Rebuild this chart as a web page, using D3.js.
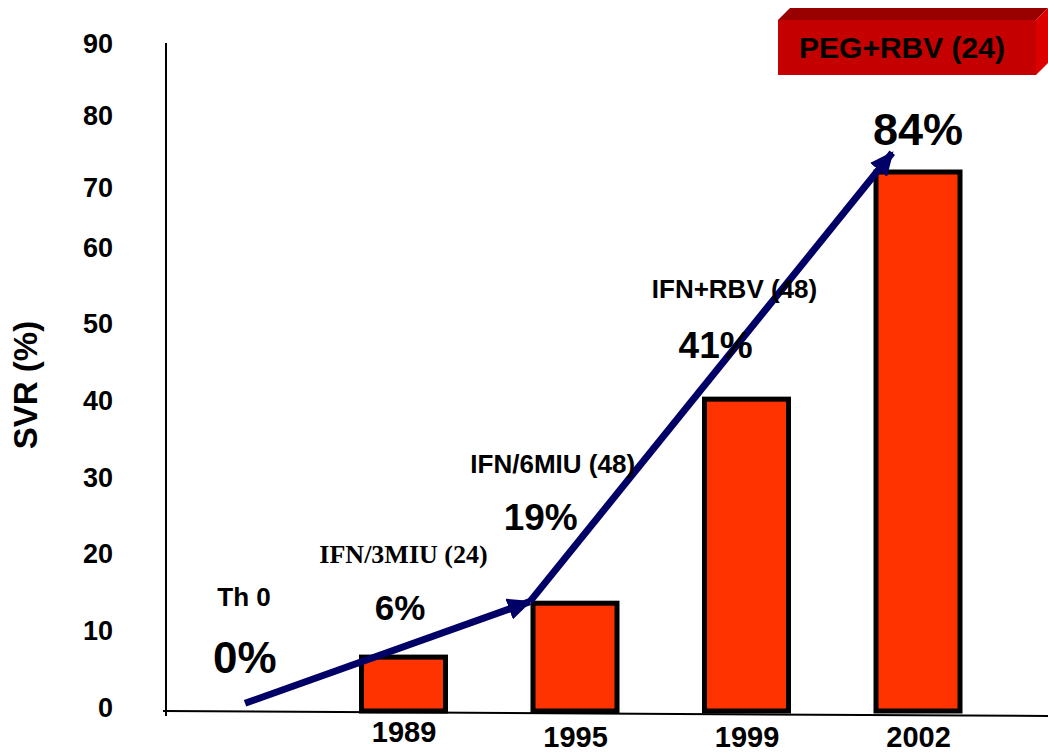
<!DOCTYPE html>
<html>
<head>
<meta charset="utf-8">
<script src="https://cdn.jsdelivr.net/npm/d3@7"></script>
<style>
  html, body { margin: 0; padding: 0; background: #fff; }
  svg { display: block; }
  text { font-family: "Liberation Sans", Arial, sans-serif; font-weight: bold; fill: #000; }
</style>
</head>
<body>
<svg id="chart" width="1048" height="753"></svg>
<script>
// Sustained virological response by treatment era
const categories = ["Th 0", "1989", "1995", "1999", "2002"];
const years = ["1989", "1995", "1999", "2002"];
const svr = [7, 14, 40.5, 70];
const yTicks = [0, 10, 20, 30, 40, 50, 60, 70, 80, 90];

// Treatment regimens and quoted response rates along the progression arrow
const regimens = ["Th 0", "IFN/3MIU (24)", "IFN/6MIU (48)", "IFN+RBV (48)", "PEG+RBV (24)"];
const rates = ["0%", "6%", "19%", "41%", "84%"];

// Progression arrow waypoints: category slot (0 = Th 0 … 4 = 2002) and SVR value
const arrowSlots = [0.076, 1.737, 3.85];
const arrowValues = [1, 14.2, 72.5];

const W = 1048, H = 753;
const svg = d3.select("#chart");

const x = d3.scalePoint().domain(categories).range([232, 918]);
const slot = d3.scaleLinear().domain([0, categories.length - 1]).range([x(categories[0]), x(categories[categories.length - 1])]);
const y = d3.scaleLinear().domain([0, 90]).range([711, 18]);
// tick labels at the top of the axis sit a little closer together
const tickY = d3.scaleLinear().domain([0, 60, 70, 90]).range([707, 247, 187, 43]);

const axisX = 166;

// y axis line and tick labels
svg.append("line")
  .attr("x1", axisX).attr("x2", axisX)
  .attr("y1", tickY(90)).attr("y2", y(0) + 5)
  .attr("stroke", "#000").attr("stroke-width", 2);

svg.append("g").selectAll("text")
  .data(yTicks).join("text")
  .attr("x", 113)
  .attr("y", d => tickY(d))
  .attr("dy", "0.36em")
  .attr("text-anchor", "end")
  .style("font-size", "27px")
  .text(d => d);

svg.append("text")
  .attr("transform", `translate(37, 385) rotate(-90)`)
  .attr("text-anchor", "middle")
  .style("font-size", "33px")
  .text("SVR (%)");

// x axis baseline
svg.append("line")
  .attr("x1", axisX - 3).attr("x2", W)
  .attr("y1", y(0)).attr("y2", y(0) + 5)
  .attr("stroke", "#000").attr("stroke-width", 2);

// year labels
const yearAxis = d3.axisBottom(x).tickValues(years).tickSize(0).tickPadding(0);
const gx = svg.append("g").attr("transform", `translate(0, ${y(0)})`).call(yearAxis);
gx.select(".domain").remove();
gx.selectAll("text")
  .attr("y", d => d === "1989" ? 31 : 36)
  .attr("dy", 0)
  .style("font-size", "29px")
  .style("font-family", "'Liberation Sans', Arial, sans-serif")
  .style("font-weight", "bold")
  .attr("fill", "#000");

// bars
const barW = 84;
svg.append("g").selectAll("rect")
  .data(years.map((yr, i) => ({ yr, v: svr[i] }))).join("rect")
  .attr("x", d => x(d.yr) - barW / 2)
  .attr("y", d => y(d.v))
  .attr("width", barW)
  .attr("height", d => y(0) - y(d.v))
  .attr("fill", "#ff3300")
  .attr("stroke", "#000")
  .attr("stroke-width", 5);

// progression arrow
const defs = svg.append("defs");
defs.append("marker")
  .attr("id", "head")
  .attr("markerUnits", "userSpaceOnUse")
  .attr("viewBox", "0 0 24 22")
  .attr("refX", 22).attr("refY", 11)
  .attr("markerWidth", 24).attr("markerHeight", 22)
  .attr("orient", "auto")
  .append("path")
  .attr("d", "M0,0 L24,11 L0,22 Z")
  .attr("fill", "#000066");

const pts = arrowSlots.map((s, i) => [slot(s), y(arrowValues[i])]);
svg.append("g").selectAll("line")
  .data(d3.pairs(pts)).join("line")
  .attr("x1", d => d[0][0]).attr("y1", d => d[0][1])
  .attr("x2", d => d[1][0]).attr("y2", d => d[1][1])
  .attr("stroke", "#000066")
  .attr("stroke-width", 7)
  .attr("marker-end", "url(#head)");

// regimen names and response rates
const regimenAnchors = [
  { s: 0.07, v: 13.6, size: 26, serif: false },
  { s: 1.0, v: 19.2, size: 26, serif: true },
  { s: 1.87, v: 30.9, size: 26, serif: false },
  { s: 2.93, v: 53.6, size: 26, serif: false }
];
const rateAnchors = [
  { s: 0.075, v: 4.9, size: 44 },
  { s: 0.98, v: 11.8, size: 35 },
  { s: 1.8, v: 23.5, size: 37 },
  { s: 2.82, v: 45.8, size: 37 },
  { s: 4.0, v: 73.5, size: 45 }
];

svg.append("g").selectAll("text")
  .data(regimenAnchors).join("text")
  .attr("x", d => slot(d.s))
  .attr("y", d => y(d.v))
  .attr("text-anchor", "middle")
  .style("font-size", d => d.size + "px")
  .style("font-family", d => d.serif ? "'Liberation Serif', 'Times New Roman', serif" : null)
  .text((d, i) => regimens[i]);

svg.append("g").selectAll("text")
  .data(rateAnchors).join("text")
  .attr("x", d => slot(d.s))
  .attr("y", d => y(d.v))
  .attr("text-anchor", "middle")
  .style("font-size", d => d.size + "px")
  .text((d, i) => rates[i]);

// 3D banner for the current regimen
const bx = 778, by = 20, bw = 258, bh = 55, depth = 12;
const banner = svg.append("g");
banner.append("path")
  .attr("d", `M${bx},${by} L${bx + depth},${by - depth} L${bx + bw + depth},${by - depth} L${bx + bw},${by} Z`)
  .attr("fill", "#990000");
banner.append("path")
  .attr("d", `M${bx + bw},${by} L${bx + bw + depth},${by - depth} L${bx + bw + depth},${by + bh - depth} L${bx + bw},${by + bh} Z`)
  .attr("fill", "#dd0000");
banner.append("rect")
  .attr("x", bx).attr("y", by).attr("width", bw).attr("height", bh)
  .attr("fill", "#c40000");
banner.append("text")
  .attr("x", bx + bw / 2 - 5)
  .attr("y", by + 38)
  .attr("text-anchor", "middle")
  .style("font-size", "30px")
  .text(regimens[4]);
</script>
</body>
</html>
